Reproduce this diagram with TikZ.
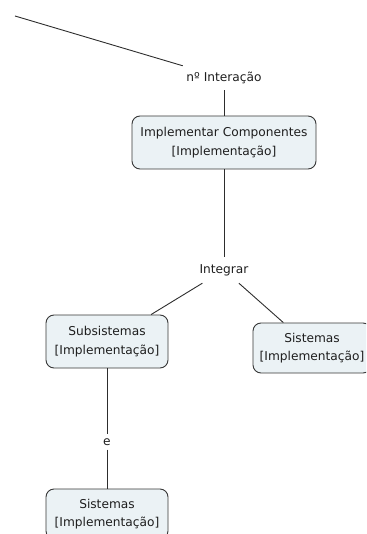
\documentclass[tikz,border=0pt]{standalone}
\usepackage{fontspec}
\setmainfont{DejaVu Sans}
\definecolor{boxfill}{RGB}{235,242,245}
\definecolor{boxline}{RGB}{55,55,55}
\definecolor{linkcol}{RGB}{45,45,45}
\definecolor{txt}{RGB}{30,30,30}
\begin{document}
\begin{tikzpicture}[x=1pt,y=-1pt,
  concept/.style={draw=boxline, fill=boxfill, rounded corners=8pt, line width=0.9pt,
    align=center, font=\fontsize{12.2}{18.5}\selectfont, text=txt, inner sep=0pt},
  linkword/.style={font=\fontsize{12.2}{18.5}\selectfont, text=txt, inner sep=0pt},
  link/.style={draw=linkcol, line width=0.9pt}]
\useasboundingbox (0,0) rectangle (366,534);
\clip (0,0) rectangle (366,534);

% concepts
\node[concept, minimum width=184pt, minimum height=53pt] (impl) at (224,142.5)
  {Implementar Componentes\\{[Implementação]}};
\node[concept, minimum width=122pt, minimum height=53pt] (sub) at (107,341.5)
  {Subsistemas\\{[Implementação]}};
\node[concept, minimum width=118pt, minimum height=50pt] (sisR) at (312,348)
  {Sistemas\\{[Implementação]}};
\node[concept, minimum width=122pt, minimum height=50pt] (sisB) at (107,514)
  {Sistemas\\{[Implementação]}};

% linking phrases
\node[linkword, minimum width=82pt, minimum height=24pt] (inter) at (224,78) {nº Interação};
\node[linkword, minimum width=50pt, minimum height=26pt] (integ) at (224,270) {Integrar};
\node[linkword, minimum width=10pt, minimum height=15pt] (conj) at (107,442) {e};
\coordinate (start) at (15,16);

% connections
\draw[link] (start) -- (inter);
\draw[link] (inter) -- (impl);
\draw[link] (impl) -- (integ);
\draw[link] (integ) -- (sub);
\draw[link] (integ) -- (sisR);
\draw[link] (sub) -- (conj);
\draw[link] (conj) -- (sisB);
\end{tikzpicture}
\end{document}
